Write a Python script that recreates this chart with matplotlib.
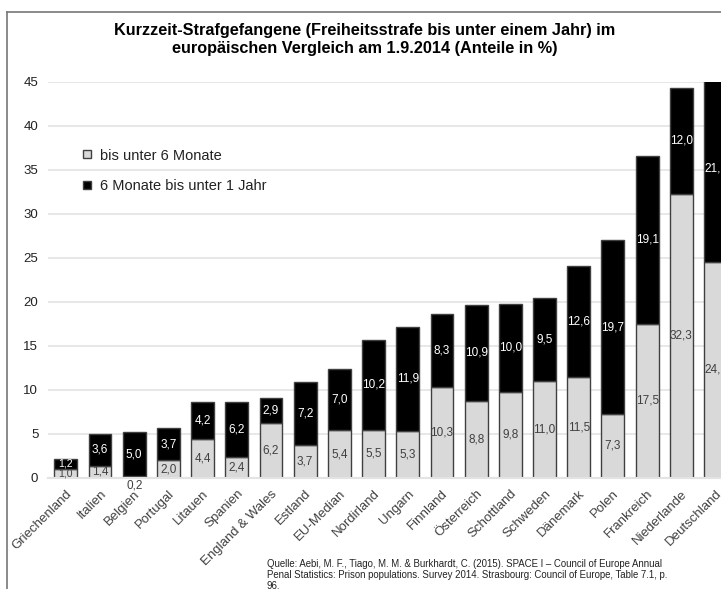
import numpy as np
import matplotlib
matplotlib.use('Agg')
import matplotlib.pyplot as plt
from matplotlib.lines import Line2D

plt.rcParams['font.family'] = ['Liberation Sans', 'DejaVu Sans']

LIGHT = '#d9d9d9'; DARK = '#000000'; EDGE = '#404040'; GRID = '#e3e3e3'; TXT = '#404040'

countries = ['Griechenland', 'Italien', 'Belgien', 'Portugal', 'Litauen', 'Spanien',
             'England & Wales', 'Estland', 'EU-Median', 'Nordirland', 'Ungarn', 'Finnland',
             'Österreich', 'Schottland', 'Schweden', 'Dänemark', 'Polen', 'Frankreich',
             'Niederlande', 'Deutschland']
under_6m = [1.0, 1.4, 0.2, 2.0, 4.4, 2.4, 6.2, 3.7, 5.4, 5.5, 5.3, 10.3,
            8.8, 9.8, 11.0, 11.5, 7.3, 17.5, 32.3, 24.6]
six_to_12m = [1.2, 3.6, 5.0, 3.7, 4.2, 6.2, 2.9, 7.2, 7.0, 10.2, 11.9, 8.3,
              10.9, 10.0, 9.5, 12.6, 19.7, 19.1, 12.0, 21.1]
series_names = ['bis unter 6 Monate', '6 Monate bis unter 1 Jahr']
yticks = [0, 5, 10, 15, 20, 25, 30, 35, 40, 45]

def de(v):
    return f'{v:.1f}'.replace('.', ',')

fig = plt.figure(figsize=(7.21, 5.89), dpi=100)
ax = fig.add_axes([0.0666, 0.1885, 0.9334, 0.6723])

x = np.arange(len(countries))
w = 0.67
ax.bar(x, under_6m, w, color=LIGHT, edgecolor=EDGE, linewidth=1.0, zorder=2)
ax.bar(x, six_to_12m, w, bottom=under_6m, color=DARK, edgecolor=EDGE, linewidth=1.0, zorder=2)

# value labels (the right-most bar is cut by the picture edge, as in the original)
for i, (a, b) in enumerate(zip(under_6m, six_to_12m)):
    fs = 8.5 if a + b > 3 else 7.5
    if a < 0.6:
        ax.text(i, -0.2, de(a), ha='center', va='top', fontsize=fs, color=TXT, clip_on=False)
    else:
        ax.text(i, a / 2, de(a), ha='center', va='center', fontsize=fs, color=TXT)
    ax.text(i, a + b / 2, de(b), ha='center', va='center', fontsize=fs, color='white')

ax.set_xlim(-0.52, 19.16)
ax.set_ylim(0, 45)
ax.set_yticks(yticks)
ax.yaxis.grid(True, color=GRID, linewidth=1.2, zorder=0)
ax.set_axisbelow(True)
for s in ['top', 'right', 'left']:
    ax.spines[s].set_visible(False)
ax.spines['bottom'].set_color(GRID)
ax.spines['bottom'].set_linewidth(1.5)
ax.tick_params(axis='both', length=0, labelsize=9.5, colors=TXT)
ax.set_xticks(x)
ax.set_xticklabels(countries, rotation=45, ha='right', rotation_mode='anchor', color=TXT)
ax.tick_params(axis='x', pad=7)
ax.tick_params(axis='y', pad=7)
for lab in ax.get_yticklabels():
    lab.set_color('#222222')

handles = [Line2D([], [], marker='s', linestyle='none', markersize=6,
                  markerfacecolor=LIGHT, markeredgecolor=EDGE),
           Line2D([], [], marker='s', linestyle='none', markersize=6,
                  markerfacecolor=DARK, markeredgecolor=EDGE)]
ax.legend(handles, series_names, loc='upper left', bbox_to_anchor=(0.03, 0.865),
          frameon=False, fontsize=10.5, handlelength=0.8, handletextpad=0.5,
          labelspacing=1.1, labelcolor='#222222')

fig.text(0.506, 0.933, 'Kurzzeit-Strafgefangene (Freiheitsstrafe bis unter einem Jahr) im\n'
         'europäischen Vergleich am 1.9.2014 (Anteile in %)',
         ha='center', va='center', fontsize=11.7, fontweight='bold', linespacing=1.2)

fig.text(0.37, 1 - 559 / 589,
         'Quelle: Aebi, M. F., Tiago, M. M. & Burkhardt, C. (2015). SPACE I – Council of Europe Annual\n'
         'Penal Statistics: Prison populations. Survey 2014. Strasbourg: Council of Europe, Table 7.1, p.\n96.',
         ha='left', va='top', fontsize=6.9, color='#222222', linespacing=1.15)

# outer frame (top and left border)
fig.add_artist(Line2D([0.0097, 0.0097], [0, 0.980], color='#777777', linewidth=1.2))
fig.add_artist(Line2D([0.0097, 1.0], [0.980, 0.980], color='#777777', linewidth=1.2))

fig.savefig('out.png', dpi=100)
